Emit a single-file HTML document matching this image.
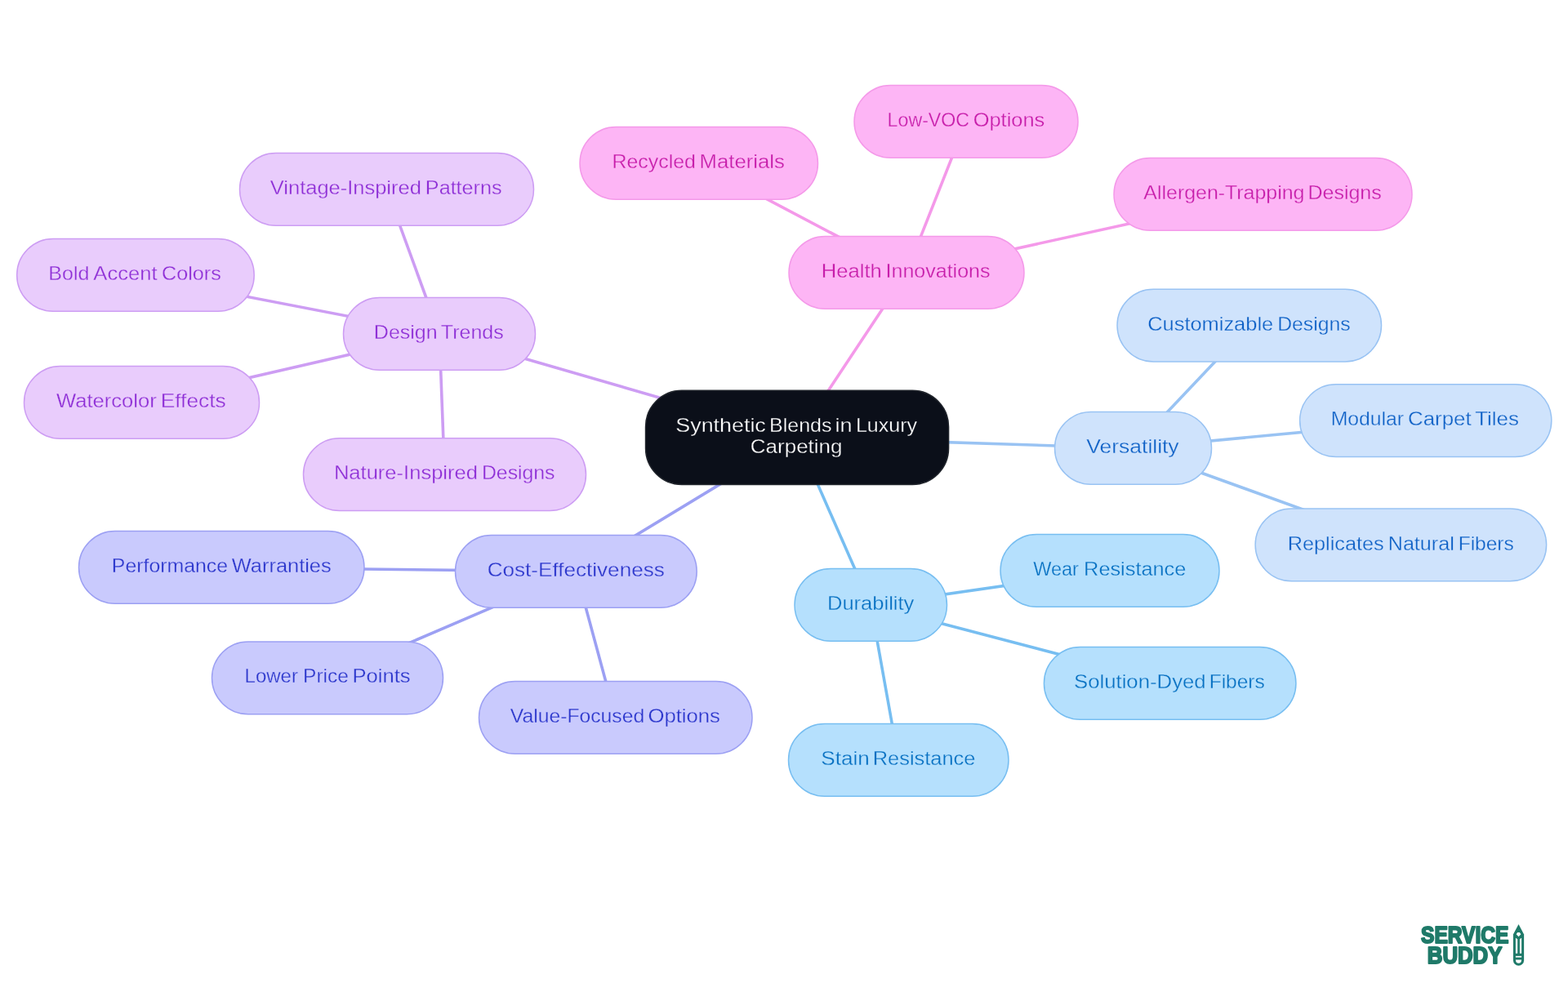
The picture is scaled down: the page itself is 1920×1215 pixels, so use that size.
<!DOCTYPE html>
<html lang="en">
<head>
<meta charset="utf-8">
<title>Synthetic Blends in Luxury Carpeting</title>
<style>
html,body{margin:0;padding:0;background:#fff;}
body{width:1920px;height:1215px;overflow:hidden;position:relative;}
svg{display:block;position:absolute;left:0;top:0;will-change:transform;}
text{font-family:"Liberation Sans",sans-serif;}
.lbl{font-size:24.5px;stroke-width:0.30;}
.logo{font-family:"Liberation Sans",sans-serif;font-weight:bold;fill:#1F7A69;stroke:#1F7A69;stroke-linejoin:round;}
</style>
</head>
<body>
<svg width="1920" height="1215" viewBox="0 0 1920 1215">
<rect x="0" y="0" width="1920" height="1215" fill="#ffffff"/>

<g fill="none" stroke-linecap="butt" stroke-width="3.60">
<line x1="976.05" y1="535.90" x2="538.00" y2="408.95" stroke="#CD9DF3"/>
<line x1="538.00" y1="408.95" x2="473.50" y2="231.95" stroke="#CD9DF3"/>
<line x1="538.00" y1="408.95" x2="165.95" y2="336.95" stroke="#CD9DF3"/>
<line x1="538.00" y1="408.95" x2="173.50" y2="492.95" stroke="#CD9DF3"/>
<line x1="538.00" y1="408.95" x2="544.50" y2="581.15" stroke="#CD9DF3"/>
<line x1="976.05" y1="535.90" x2="1110.00" y2="333.95" stroke="#F499E9"/>
<line x1="1110.00" y1="333.95" x2="855.75" y2="199.95" stroke="#F499E9"/>
<line x1="1110.00" y1="333.95" x2="1183.00" y2="148.95" stroke="#F499E9"/>
<line x1="1110.00" y1="333.95" x2="1546.50" y2="237.95" stroke="#F499E9"/>
<line x1="976.05" y1="535.90" x2="1387.50" y2="548.95" stroke="#99C3F3"/>
<line x1="1387.50" y1="548.95" x2="1529.75" y2="398.55" stroke="#99C3F3"/>
<line x1="1387.50" y1="548.95" x2="1745.70" y2="515.10" stroke="#99C3F3"/>
<line x1="1387.50" y1="548.95" x2="1715.35" y2="667.35" stroke="#99C3F3"/>
<line x1="976.05" y1="535.90" x2="1066.25" y2="740.95" stroke="#77BEF1"/>
<line x1="1066.25" y1="740.95" x2="1359.00" y2="698.95" stroke="#77BEF1"/>
<line x1="1066.25" y1="740.95" x2="1432.65" y2="836.95" stroke="#77BEF1"/>
<line x1="1066.25" y1="740.95" x2="1100.25" y2="930.95" stroke="#77BEF1"/>
<line x1="976.05" y1="535.90" x2="705.35" y2="699.95" stroke="#9CA0F3"/>
<line x1="705.35" y1="699.95" x2="271.25" y2="694.95" stroke="#9CA0F3"/>
<line x1="705.35" y1="699.95" x2="401.00" y2="830.35" stroke="#9CA0F3"/>
<line x1="705.35" y1="699.95" x2="753.75" y2="878.95" stroke="#9CA0F3"/>
</g>
<rect x="420.50" y="364.60" width="235.00" height="88.70" rx="44.35" ry="44.35" fill="#E9CCFC" stroke="#CD9DF3" stroke-width="1.50"/>
<text class="lbl" y="415.00" fill="#8E2ED6" stroke="#E9CCFC"><tspan x="457.86" textLength="77.81" lengthAdjust="spacingAndGlyphs">Design</tspan> <tspan x="539.89" textLength="76.77" lengthAdjust="spacingAndGlyphs">Trends</tspan></text>
<rect x="293.50" y="187.60" width="360.00" height="88.70" rx="44.35" ry="44.35" fill="#E9CCFC" stroke="#CD9DF3" stroke-width="1.50"/>
<text class="lbl" y="238.00" fill="#8E2ED6" stroke="#E9CCFC"><tspan x="330.77" textLength="185.10" lengthAdjust="spacingAndGlyphs">Vintage-Inspired</tspan> <tspan x="520.85" textLength="93.75" lengthAdjust="spacingAndGlyphs">Patterns</tspan></text>
<rect x="20.70" y="292.60" width="290.50" height="88.70" rx="44.35" ry="44.35" fill="#E9CCFC" stroke="#CD9DF3" stroke-width="1.50"/>
<text class="lbl" y="343.00" fill="#8E2ED6" stroke="#E9CCFC"><tspan x="59.36" textLength="50.02" lengthAdjust="spacingAndGlyphs">Bold</tspan> <tspan x="114.37" textLength="78.19" lengthAdjust="spacingAndGlyphs">Accent</tspan> <tspan x="197.91" textLength="72.94" lengthAdjust="spacingAndGlyphs">Colors</tspan></text>
<rect x="29.50" y="448.60" width="288.00" height="88.70" rx="44.35" ry="44.35" fill="#E9CCFC" stroke="#CD9DF3" stroke-width="1.50"/>
<text class="lbl" y="499.00" fill="#8E2ED6" stroke="#E9CCFC"><tspan x="68.97" textLength="122.77" lengthAdjust="spacingAndGlyphs">Watercolor</tspan> <tspan x="196.65" textLength="80.08" lengthAdjust="spacingAndGlyphs">Effects</tspan></text>
<rect x="371.50" y="536.80" width="346.00" height="88.70" rx="44.35" ry="44.35" fill="#E9CCFC" stroke="#CD9DF3" stroke-width="1.50"/>
<text class="lbl" y="587.00" fill="#8E2ED6" stroke="#E9CCFC"><tspan x="408.91" textLength="176.06" lengthAdjust="spacingAndGlyphs">Nature-Inspired</tspan> <tspan x="589.98" textLength="89.52" lengthAdjust="spacingAndGlyphs">Designs</tspan></text>
<rect x="966.00" y="289.60" width="288.00" height="88.70" rx="44.35" ry="44.35" fill="#FDB5F5" stroke="#F499E9" stroke-width="1.50"/>
<text class="lbl" y="340.00" fill="#C71DAA" stroke="#FDB5F5"><tspan x="1005.81" textLength="73.94" lengthAdjust="spacingAndGlyphs">Health</tspan> <tspan x="1084.60" textLength="127.85" lengthAdjust="spacingAndGlyphs">Innovations</tspan></text>
<rect x="710.00" y="155.60" width="291.50" height="88.70" rx="44.35" ry="44.35" fill="#FDB5F5" stroke="#F499E9" stroke-width="1.50"/>
<text class="lbl" y="206.00" fill="#C71DAA" stroke="#FDB5F5"><tspan x="749.57" textLength="102.30" lengthAdjust="spacingAndGlyphs">Recycled</tspan> <tspan x="856.60" textLength="104.23" lengthAdjust="spacingAndGlyphs">Materials</tspan></text>
<rect x="1046.00" y="104.60" width="274.00" height="88.70" rx="44.35" ry="44.35" fill="#FDB5F5" stroke="#F499E9" stroke-width="1.50"/>
<text class="lbl" y="155.00" fill="#C71DAA" stroke="#FDB5F5"><tspan x="1086.61" textLength="100.49" lengthAdjust="spacingAndGlyphs">Low-VOC</tspan> <tspan x="1191.73" textLength="87.54" lengthAdjust="spacingAndGlyphs">Options</tspan></text>
<rect x="1364.00" y="193.60" width="365.00" height="88.70" rx="44.35" ry="44.35" fill="#FDB5F5" stroke="#F499E9" stroke-width="1.50"/>
<text class="lbl" y="244.00" fill="#C71DAA" stroke="#FDB5F5"><tspan x="1400.37" textLength="197.05" lengthAdjust="spacingAndGlyphs">Allergen-Trapping</tspan> <tspan x="1601.46" textLength="90.25" lengthAdjust="spacingAndGlyphs">Designs</tspan></text>
<rect x="1291.50" y="504.60" width="192.00" height="88.70" rx="44.35" ry="44.35" fill="#CFE3FC" stroke="#99C3F3" stroke-width="1.50"/>
<text class="lbl" y="555.00" fill="#0D60C6" stroke="#CFE3FC"><tspan x="1330.36" textLength="113.24" lengthAdjust="spacingAndGlyphs">Versatility</tspan></text>
<rect x="1368.00" y="354.20" width="323.50" height="88.70" rx="44.35" ry="44.35" fill="#CFE3FC" stroke="#99C3F3" stroke-width="1.50"/>
<text class="lbl" y="405.00" fill="#0D60C6" stroke="#CFE3FC"><tspan x="1405.20" textLength="154.00" lengthAdjust="spacingAndGlyphs">Customizable</tspan> <tspan x="1564.18" textLength="89.42" lengthAdjust="spacingAndGlyphs">Designs</tspan></text>
<rect x="1591.60" y="470.75" width="308.20" height="88.70" rx="44.35" ry="44.35" fill="#CFE3FC" stroke="#99C3F3" stroke-width="1.50"/>
<text class="lbl" y="521.00" fill="#0D60C6" stroke="#CFE3FC"><tspan x="1629.68" textLength="89.31" lengthAdjust="spacingAndGlyphs">Modular</tspan> <tspan x="1724.08" textLength="77.50" lengthAdjust="spacingAndGlyphs">Carpet</tspan> <tspan x="1806.17" textLength="53.74" lengthAdjust="spacingAndGlyphs">Tiles</tspan></text>
<rect x="1537.10" y="623.00" width="356.50" height="88.70" rx="44.35" ry="44.35" fill="#CFE3FC" stroke="#99C3F3" stroke-width="1.50"/>
<text class="lbl" y="674.00" fill="#0D60C6" stroke="#CFE3FC"><tspan x="1576.74" textLength="117.88" lengthAdjust="spacingAndGlyphs">Replicates</tspan> <tspan x="1699.75" textLength="81.00" lengthAdjust="spacingAndGlyphs">Natural</tspan> <tspan x="1785.70" textLength="68.05" lengthAdjust="spacingAndGlyphs">Fibers</tspan></text>
<rect x="973.00" y="696.60" width="186.50" height="88.70" rx="44.35" ry="44.35" fill="#B5E0FD" stroke="#77BEF1" stroke-width="1.50"/>
<text class="lbl" y="747.00" fill="#0670C2" stroke="#B5E0FD"><tspan x="1013.02" textLength="106.31" lengthAdjust="spacingAndGlyphs">Durability</tspan></text>
<rect x="1225.00" y="654.60" width="268.00" height="88.70" rx="44.35" ry="44.35" fill="#B5E0FD" stroke="#77BEF1" stroke-width="1.50"/>
<text class="lbl" y="705.00" fill="#0670C2" stroke="#B5E0FD"><tspan x="1265.18" textLength="55.75" lengthAdjust="spacingAndGlyphs">Wear</tspan> <tspan x="1327.13" textLength="125.18" lengthAdjust="spacingAndGlyphs">Resistance</tspan></text>
<rect x="1278.40" y="792.60" width="308.50" height="88.70" rx="44.35" ry="44.35" fill="#B5E0FD" stroke="#77BEF1" stroke-width="1.50"/>
<text class="lbl" y="843.00" fill="#0670C2" stroke="#B5E0FD"><tspan x="1315.02" textLength="161.60" lengthAdjust="spacingAndGlyphs">Solution-Dyed</tspan> <tspan x="1480.70" textLength="68.05" lengthAdjust="spacingAndGlyphs">Fibers</tspan></text>
<rect x="965.50" y="886.60" width="269.50" height="88.70" rx="44.35" ry="44.35" fill="#B5E0FD" stroke="#77BEF1" stroke-width="1.50"/>
<text class="lbl" y="937.00" fill="#0670C2" stroke="#B5E0FD"><tspan x="1005.30" textLength="59.39" lengthAdjust="spacingAndGlyphs">Stain</tspan> <tspan x="1068.73" textLength="125.69" lengthAdjust="spacingAndGlyphs">Resistance</tspan></text>
<rect x="557.50" y="655.60" width="295.70" height="88.70" rx="44.35" ry="44.35" fill="#C9CAFD" stroke="#9CA0F3" stroke-width="1.50"/>
<text class="lbl" y="706.00" fill="#2B36CC" stroke="#C9CAFD"><tspan x="596.67" textLength="217.13" lengthAdjust="spacingAndGlyphs">Cost-Effectiveness</tspan></text>
<rect x="96.50" y="650.60" width="349.50" height="88.70" rx="44.35" ry="44.35" fill="#C9CAFD" stroke="#9CA0F3" stroke-width="1.50"/>
<text class="lbl" y="701.00" fill="#2B36CC" stroke="#C9CAFD"><tspan x="136.87" textLength="142.18" lengthAdjust="spacingAndGlyphs">Performance</tspan> <tspan x="283.87" textLength="121.78" lengthAdjust="spacingAndGlyphs">Warranties</tspan></text>
<rect x="259.50" y="786.00" width="283.00" height="88.70" rx="44.35" ry="44.35" fill="#C9CAFD" stroke="#9CA0F3" stroke-width="1.50"/>
<text class="lbl" y="836.00" fill="#2B36CC" stroke="#C9CAFD"><tspan x="299.54" textLength="65.41" lengthAdjust="spacingAndGlyphs">Lower</tspan> <tspan x="371.10" textLength="55.88" lengthAdjust="spacingAndGlyphs">Price</tspan> <tspan x="431.51" textLength="71.17" lengthAdjust="spacingAndGlyphs">Points</tspan></text>
<rect x="586.50" y="834.60" width="334.50" height="88.70" rx="44.35" ry="44.35" fill="#C9CAFD" stroke="#9CA0F3" stroke-width="1.50"/>
<text class="lbl" y="885.00" fill="#2B36CC" stroke="#C9CAFD"><tspan x="624.87" textLength="164.35" lengthAdjust="spacingAndGlyphs">Value-Focused</tspan> <tspan x="793.42" textLength="88.56" lengthAdjust="spacingAndGlyphs">Options</tspan></text>
<rect x="790.55" y="478.35" width="371.00" height="115.10" rx="44.35" ry="44.35" fill="#0B0F19" stroke="#20242B" stroke-width="1.5"/>
<text class="lbl" fill="#ffffff" stroke="#0B0F19"><tspan y="528.60" x="827.27" textLength="110.55" lengthAdjust="spacingAndGlyphs">Synthetic</tspan> <tspan y="528.60" x="942.06" textLength="76.38" lengthAdjust="spacingAndGlyphs">Blends</tspan> <tspan y="528.60" x="1022.61" textLength="21.03" lengthAdjust="spacingAndGlyphs">in</tspan> <tspan y="528.60" x="1047.96" textLength="75.02" lengthAdjust="spacingAndGlyphs">Luxury</tspan> <tspan y="555.00" x="918.88" textLength="112.53" lengthAdjust="spacingAndGlyphs">Carpeting</tspan></text>
<g class="logo">
<text x="1740.1" y="1154.5" font-size="28.6" textLength="107.3" lengthAdjust="spacingAndGlyphs" stroke-width="2.1">SERVICE</text>
<text x="1747.8" y="1179.8" font-size="29.3" textLength="91.5" lengthAdjust="spacingAndGlyphs" stroke-width="2.1">BUDDY</text>
</g>
<g>
<path d="M1859.5 1131.9 L1866.1 1144.6 L1866.1 1176.2 A6.6 6.6 0 0 1 1852.9 1176.2 L1852.9 1144.6 Z" fill="#1F7A69"/>
<path d="M1858.2 1142.0 L1860.8 1142.0 L1862.4 1144.2 L1859.5 1147.2 L1856.6 1144.2 Z" fill="#ffffff"/>
<path d="M1855.9 1148.7 L1858.2 1150.3 L1858.2 1167.8 L1855.9 1167.8 Z" fill="#ffffff"/>
<path d="M1863.1 1148.7 L1860.9 1150.3 L1860.9 1167.8 L1863.1 1167.8 Z" fill="#ffffff"/>
<rect x="1855.9" y="1170.9" width="7.2" height="1.7" fill="#ffffff"/>
<path d="M1855.9 1175.4 L1863.1 1175.4 A3.6 4.3 0 0 1 1855.9 1175.4 Z" fill="#ffffff"/>
</g>

</svg>
</body>
</html>
